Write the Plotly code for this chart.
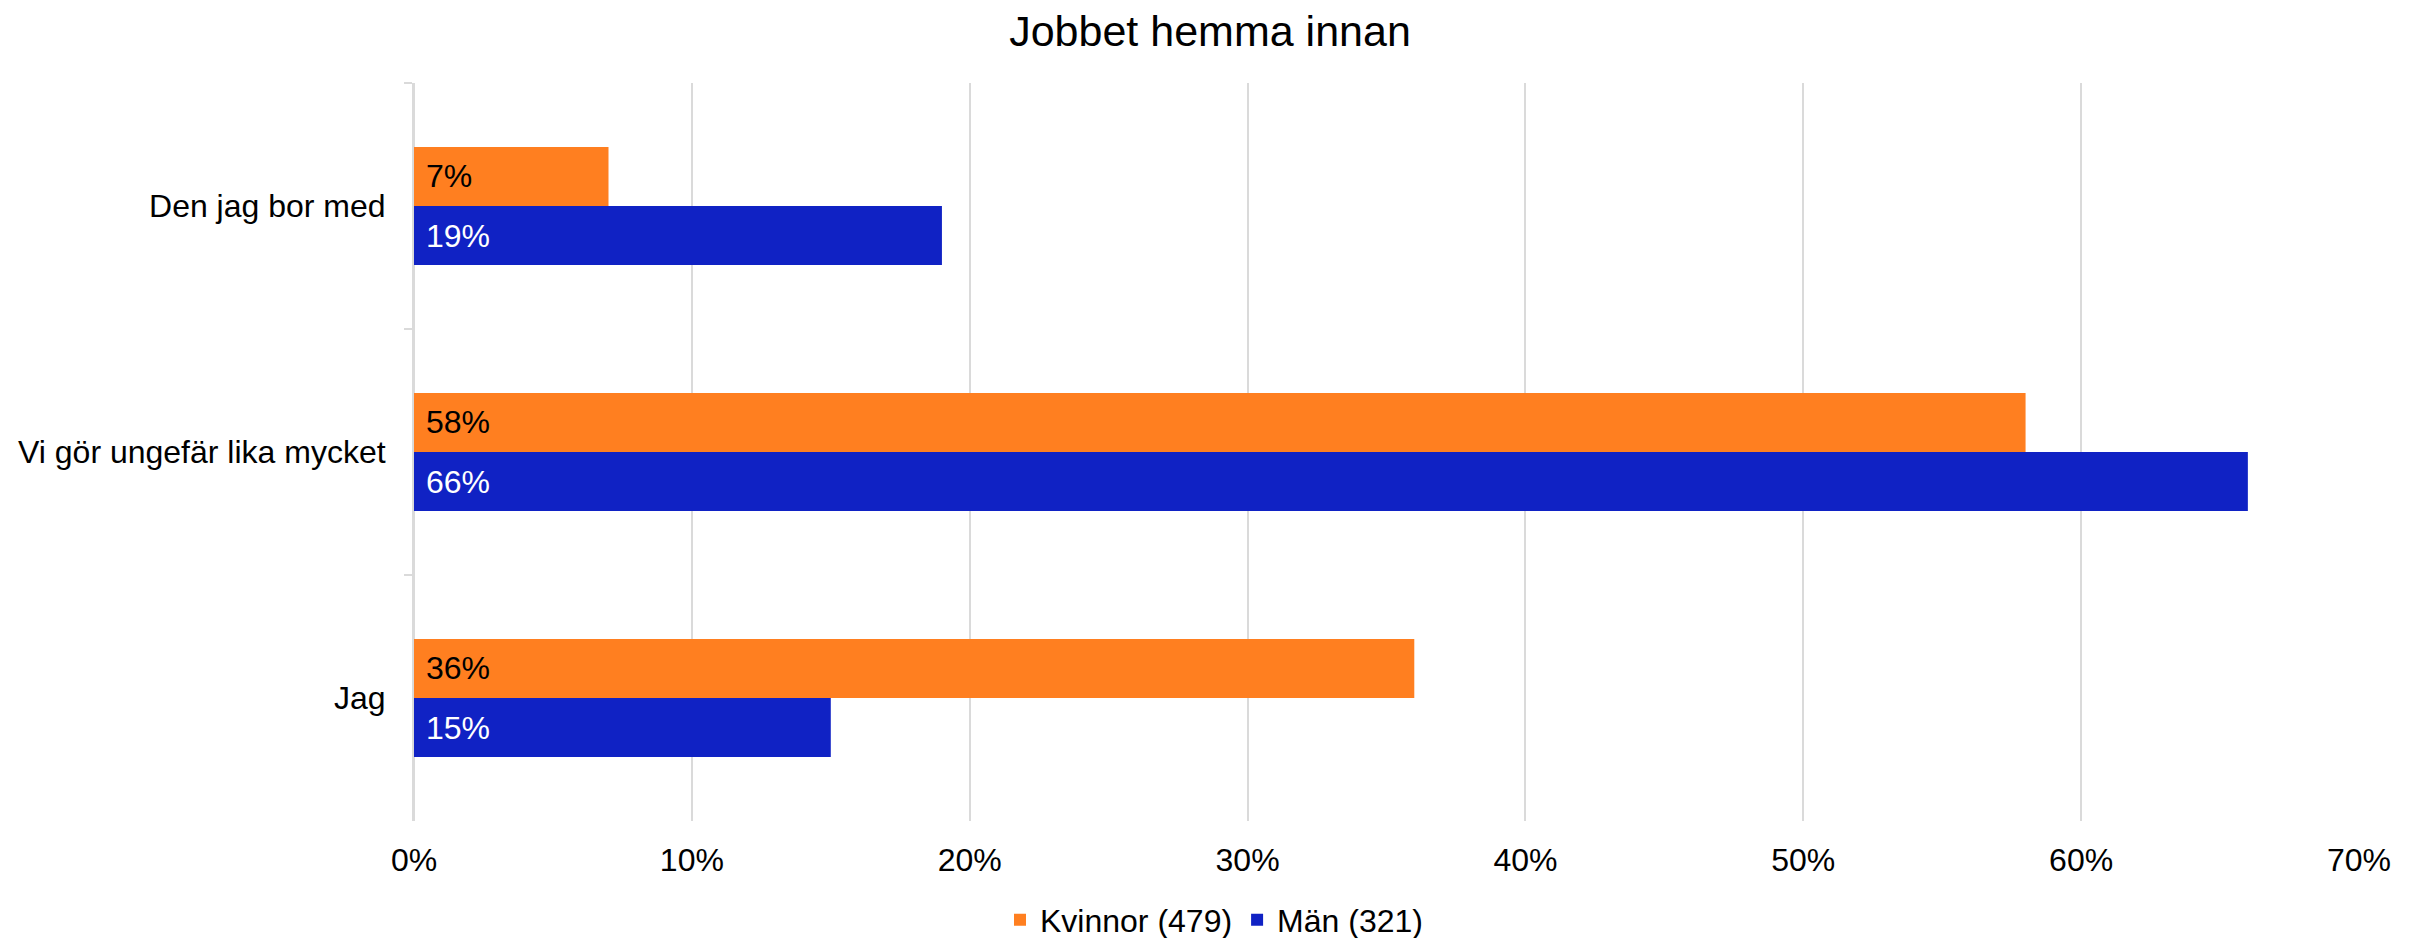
import plotly.graph_objects as go

categories = ["Den jag bor med", "Vi gör ungefär lika mycket", "Jag"]
kvinnor = [7, 58, 36]
man = [19, 66, 15]
series_names = ["Kvinnor (479)", "Män (321)"]
x_ticks = [0, 10, 20, 30, 40, 50, 60, 70]
x_tick_labels = [f"{v}%" for v in x_ticks]

ORANGE = "#FF7F20"
BLUE = "#1022C4"
GRID = "#DADADA"
FONT = "Liberation Sans, Arial, sans-serif"

# page body has an 8px default margin -> figure is drawn offset by (8, 8)
W, H = 2412, 930

fig = go.Figure()
fig.add_trace(go.Bar(
    y=categories, x=kvinnor, orientation="h", name=series_names[0],
    marker=dict(color=ORANGE, line=dict(width=0)),
    text=[f" {v}%" for v in kvinnor], textposition="inside",
    insidetextanchor="start", textangle=0,
    textfont=dict(color="black", size=32, family=FONT),
    hoverinfo="skip",
))
fig.add_trace(go.Bar(
    y=categories, x=man, orientation="h", name=series_names[1],
    marker=dict(color=BLUE, line=dict(width=0)),
    text=[f" {v}%" for v in man], textposition="inside",
    insidetextanchor="start", textangle=0,
    textfont=dict(color="white", size=32, family=FONT),
    hoverinfo="skip",
))

fig.update_layout(
    width=W, height=H,
    barmode="group", bargap=0.52, bargroupgap=0,
    plot_bgcolor="white", paper_bgcolor="white",
    font=dict(family=FONT, size=32, color="black"),
    margin=dict(l=406, r=W - 2351, t=75, b=H - 813, autoexpand=False),
    title=dict(text="Jobbet hemma innan", x=1202 / W, xref="container", xanchor="center",
               y=1 - 23 / H, yref="container", yanchor="middle",
               font=dict(size=43, family=FONT, color="black")),
    showlegend=True,
    legend=dict(orientation="h", xref="container", x=1206 / W, xanchor="center",
                yref="container", y=1 - 912 / H, yanchor="middle",
                font=dict(size=32, family=FONT), itemwidth=30,
                traceorder="normal", bgcolor="rgba(0,0,0,0)"),
)
fig.update_xaxes(
    range=[0, 70], tickvals=x_ticks, ticktext=x_tick_labels,
    showgrid=True, gridcolor=GRID, gridwidth=2,
    zeroline=True, zerolinecolor=GRID, zerolinewidth=2,
    showline=False, ticks="outside", ticklen=11, tickcolor="rgba(0,0,0,0)",
    tickfont=dict(size=32, family=FONT), fixedrange=True,
)
fig.update_yaxes(
    autorange="reversed", showgrid=False, zeroline=False,
    showline=True, linecolor=GRID, linewidth=2,
    ticks="outside", tickson="boundaries", ticklen=8, tickcolor=GRID, tickwidth=2,
    ticklabelstandoff=20,
    tickfont=dict(size=32, family=FONT), fixedrange=True,
)

fig.write_html("out.html")
